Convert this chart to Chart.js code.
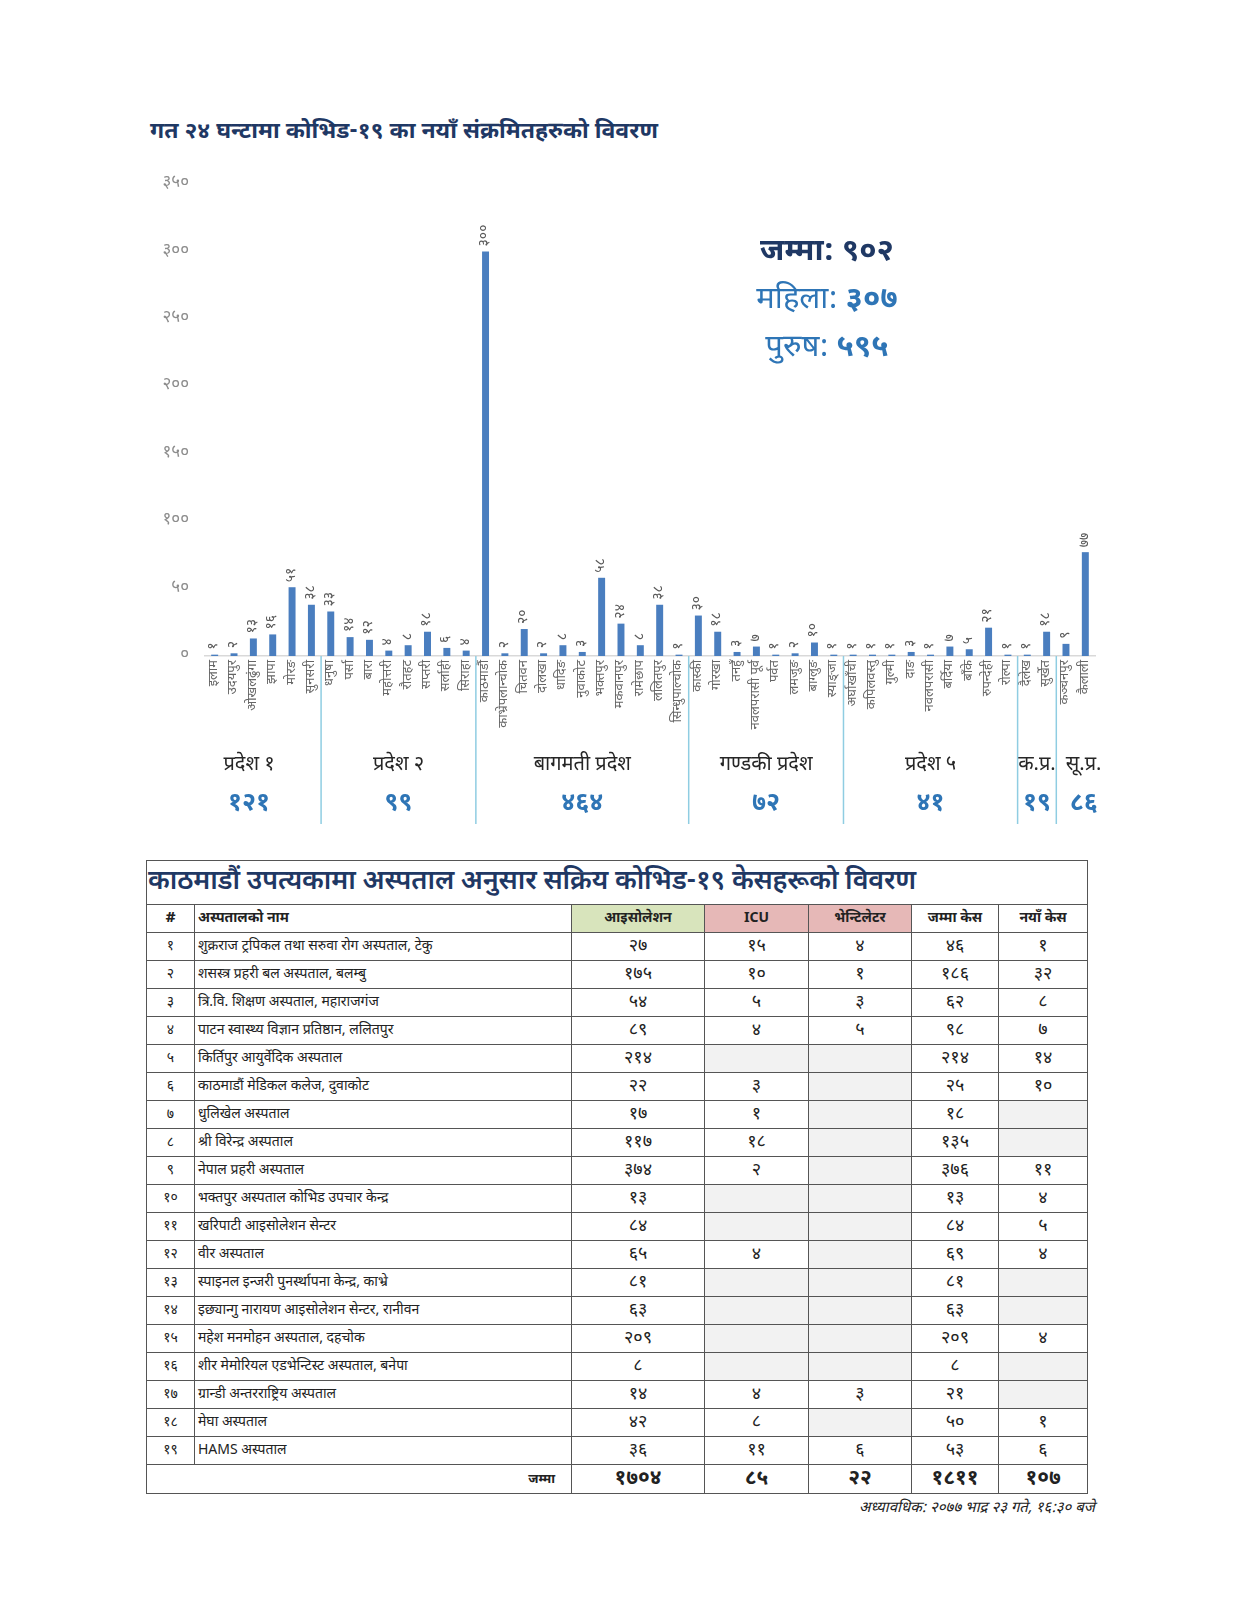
<!DOCTYPE html>
<html><head><meta charset="utf-8">
<script src="https://cdn.jsdelivr.net/npm/chart.js@4.4.0/dist/chart.umd.min.js"></script>
<style>
html,body{margin:0;padding:0;background:#fff;}
body{width:1236px;height:1600px;position:relative;overflow:hidden;font-family:"Noto Sans Devanagari","Lohit Devanagari","Noto Sans","DejaVu Sans",sans-serif;}
#title{position:absolute;left:150px;top:117px;font-size:23px;font-weight:bold;color:#1f3864;white-space:nowrap;}
#chartWrap{position:absolute;left:0;top:0;width:1236px;height:850px;}
#anno{position:absolute;left:677px;top:229px;width:300px;text-align:center;}
#anno div{line-height:48px;white-space:nowrap;}
#a1{font-size:31px;font-weight:bold;color:#1f3864;}
#a2,#a3{font-size:31px;color:#2e75b6;}
#a2 b,#a3 b{font-weight:bold;}
#tbl{position:absolute;left:146px;top:860px;width:941px;border-collapse:collapse;table-layout:fixed;border:1.5px solid #333;}
#tbl td{border:1px solid #555;padding:0;font-size:14px;color:#222;white-space:nowrap;overflow:hidden;}
#tbl tr{height:28px;}
#tbl td.c{text-align:center;font-size:18px;}
#tbl td.n{padding-left:3px;}
#tbl td.e{background:#f2f2f2;}
#tbl tr.ttl td{height:43px;font-size:27px;font-weight:600;color:#1f3864;text-align:left;padding-left:1px;letter-spacing:-0.2px;}
#tbl tr.hdr td{font-size:14px;font-weight:bold;text-align:center;}
#tbl tr.tot td{font-size:21px;font-weight:bold;text-align:center;height:28px;}
#foot{position:absolute;right:141px;top:1499px;font-size:15px;font-style:italic;color:#222;white-space:nowrap;}
</style>
</head><body>
<div id="title"></div>
<div id="chartWrap"><canvas id="c" width="1236" height="850"></canvas></div>
<div id="anno"><div id="a1"></div><div id="a2"></div><div id="a3"></div></div>
<table id="tbl"></table>
<div id="foot"></div>
<script>
// ---------- DATA ----------
const chartTitle = 'गत २४ घन्टामा कोभिड-१९ का नयाँ संक्रमितहरुको विवरण';
const districts = [
  'इलाम','उदयपुर','ओखलढुंगा','झापा','मोरङ','सुनसरी',
  'धनुषा','पर्सा','बारा','महोत्तरी','रौतहट','सप्तरी','सर्लाही','सिराहा',
  'काठमाडौं','काभ्रेपलान्चोक','चितवन','दोलखा','धादिङ','नुवाकोट','भक्तपुर','मकवानपुर','रामेछाप','ललितपुर','सिन्धुपाल्चोक',
  'कास्की','गोरखा','तनहुँ','नवलपरासी पूर्व','पर्वत','लमजुङ','बाग्लुङ','स्याङ्जा',
  'अर्घाखाँची','कपिलवस्तु','गुल्मी','दाङ','नवलपरासी','बर्दिया','बाँके','रुपन्देही','रोल्पा',
  'दैलेख','सुर्खेत',
  'कञ्चनपुर','कैलाली'
];
const newCases = [
  1,2,13,16,51,38,
  33,14,12,4,8,18,6,4,
  300,2,20,2,8,3,58,24,8,38,1,
  30,18,3,7,1,2,10,1,
  1,1,1,3,1,7,5,21,1,
  1,18,
  9,77
];
const provinceNames = ['प्रदेश १','प्रदेश २','बागमती प्रदेश','गण्डकी प्रदेश','प्रदेश ५','क.प्र.','सू.प्र.'];
const provinceSizes = [6,8,11,8,9,2,2];
const provinceTotals = [121,99,464,72,41,19,86];
const yMax = 350, yStep = 50;
const totalLabel = 'जम्मा:', totalCases = 902;
const femaleLabel = 'महिला:', femaleCases = 307;
const maleLabel = 'पुरुष:', maleCases = 595;

const tableTitle = 'काठमाडौं उपत्यकामा अस्पताल अनुसार सक्रिय कोभिड-१९  केसहरूको विवरण';
const tableHeaders = ['#','अस्पतालको नाम','आइसोलेशन','ICU','भेन्टिलेटर','जम्मा केस','नयाँ केस'];
const hospitals = [
  'शुक्रराज ट्रपिकल तथा सरुवा रोग अस्पताल, टेकु',
  'शसस्त्र प्रहरी बल अस्पताल, बलम्बु',
  'त्रि.वि. शिक्षण अस्पताल, महाराजगंज',
  'पाटन स्वास्थ्य विज्ञान प्रतिष्ठान, ललितपुर',
  'किर्तिपुर आयुर्वेदिक अस्पताल',
  'काठमाडौं मेडिकल कलेज, दुवाकोट',
  'धुलिखेल अस्पताल',
  'श्री विरेन्द्र अस्पताल',
  'नेपाल प्रहरी अस्पताल',
  'भक्तपुर अस्पताल कोभिड उपचार केन्द्र',
  'खरिपाटी आइसोलेशन सेन्टर',
  'वीर अस्पताल',
  'स्पाइनल इन्जरी पुनर्स्थापना केन्द्र, काभ्रे',
  'इछ्यान्गु नारायण आइसोलेशन सेन्टर, रानीवन',
  'महेश मनमोहन अस्पताल, दहचोक',
  'शीर मेमोरियल एडभेन्टिस्ट अस्पताल, बनेपा',
  'ग्रान्डी अन्तरराष्ट्रिय अस्पताल',
  'मेघा अस्पताल',
  'HAMS अस्पताल'
];
const isolation = [27,175,54,89,214,22,17,117,374,13,84,65,81,63,209,8,14,42,36];
const icu       = [15,10,5,4,null,3,1,18,2,null,null,4,null,null,null,null,4,8,11];
const ventilator= [4,1,3,5,null,null,null,null,null,null,null,null,null,null,null,null,3,null,6];
const totalCol  = [46,186,62,98,214,25,18,135,376,13,84,69,81,63,209,8,21,50,53];
const newCol    = [1,32,8,7,14,10,null,null,11,4,5,4,null,null,4,null,null,1,6];
const grandTotals = [1704,85,22,1811,107];
const totalRowLabel = 'जम्मा';
const footerText = 'अध्यावधिक: २०७७ भाद्र २३ गते, १६:३० बजे';

// ---------- helpers ----------
const devDigits = ['०','१','२','३','४','५','६','७','८','९'];
function ne(n){ return String(n).replace(/[0-9]/g, d => devDigits[+d]); }
const FONT = '"Noto Sans Devanagari","Lohit Devanagari","Noto Sans","DejaVu Sans",sans-serif';

document.getElementById('title').textContent = chartTitle;
document.getElementById('a1').textContent = totalLabel + ' ' + ne(totalCases);
document.getElementById('a2').innerHTML = femaleLabel + ' <b>' + ne(femaleCases) + '</b>';
document.getElementById('a3').innerHTML = maleLabel + ' <b>' + ne(maleCases) + '</b>';
document.getElementById('foot').textContent = footerText;

// ---------- chart ----------
const valueLabels = {
  id: 'valueLabels',
  afterDatasetsDraw(chart) {
    const ctx = chart.ctx;
    const meta = chart.getDatasetMeta(0);
    ctx.save();
    ctx.fillStyle = '#595959';
    ctx.font = '14px ' + FONT;
    ctx.textAlign = 'left';
    ctx.textBaseline = 'middle';
    meta.data.forEach((bar, i) => {
      ctx.save();
      ctx.translate(bar.x, bar.y - 5);
      ctx.rotate(-Math.PI / 2);
      ctx.fillText(ne(chart.data.datasets[0].data[i]), 0, 0);
      ctx.restore();
    });
    ctx.restore();
  }
};
const provinceGroups = {
  id: 'provinceGroups',
  afterDraw(chart) {
    const ctx = chart.ctx;
    const xs = chart.scales.x;
    const bottom = chart.chartArea.bottom;
    const last = provinceSizes.length - 1;
    ctx.save();
    let start = 0;
    provinceSizes.forEach((size, g) => {
      const end = start + size - 1;
      let cx = (xs.getPixelForValue(start) + xs.getPixelForValue(end)) / 2;
      if (g === 0) cx -= 14;
      if (g === last) cx += 8;
      ctx.textAlign = 'center';
      ctx.textBaseline = 'middle';
      ctx.fillStyle = '#262626';
      ctx.font = '20px ' + FONT;
      ctx.fillText(provinceNames[g], cx, bottom + 110);
      ctx.fillStyle = '#2e75b6';
      ctx.font = 'bold 25px ' + FONT;
      ctx.fillText(ne(provinceTotals[g]), cx, bottom + 149);
      if (g < last) {
        const bx = (xs.getPixelForValue(end) + xs.getPixelForValue(end + 1)) / 2;
        ctx.strokeStyle = '#8fcde2';
        ctx.lineWidth = 1.5;
        ctx.beginPath();
        ctx.moveTo(bx, bottom);
        ctx.lineTo(bx, bottom + 168);
        ctx.stroke();
      }
      start = end + 1;
    });
    ctx.restore();
  }
};

new Chart(document.getElementById('c'), {
  type: 'bar',
  data: {
    labels: districts,
    datasets: [{
      data: newCases,
      backgroundColor: '#4a7ebf',
      barPercentage: 0.36,
      categoryPercentage: 1.0
    }]
  },
  options: {
    responsive: false,
    animation: false,
    layout: { padding: { left: 150, right: 141, top: 184, bottom: 94 } },
    plugins: { legend: { display: false }, tooltip: { enabled: false } },
    scales: {
      x: {
        grid: { display: false, drawTicks: false },
        border: { display: true, color: '#d9d9d9', width: 1.5 },
        ticks: {
          autoSkip: false, minRotation: 90, maxRotation: 90, padding: 4,
          color: '#666666', font: { size: 13, family: FONT }
        },
        afterFit(scale) { scale.height = 100; }
      },
      y: {
        min: 0, max: yMax,
        grid: { display: false, drawTicks: false },
        border: { display: false },
        ticks: {
          stepSize: yStep, padding: 16, color: '#8c8c8c',
          font: { size: 17, family: FONT },
          callback: v => ne(v)
        },
        afterFit(scale) { scale.width = 55; }
      }
    }
  },
  plugins: [valueLabels, provinceGroups]
});

// ---------- table ----------
(function buildTable(){
  const t = document.getElementById('tbl');
  const colW = [48,377,133,104,103,87,89];
  let html = '<colgroup>' + colW.map(w => '<col style="width:' + w + 'px">').join('') + '</colgroup>';
  html += '<tr class="ttl"><td colspan="7">' + tableTitle + '</td></tr>';
  const hdrBg = ['', '', '#d8e4bc', '#e6b8b7', '#e6b8b7', '', ''];
  html += '<tr class="hdr">' + tableHeaders.map((h, i) =>
    '<td style="' + (hdrBg[i] ? 'background:' + hdrBg[i] + ';' : '') + (i === 1 ? 'text-align:left;padding-left:3px;' : '') + (i===0?'font-size:16px;':'') + '">' + h + '</td>').join('') + '</tr>';
  const cell = v => v === null ? '<td class="c e"></td>' : '<td class="c">' + ne(v) + '</td>';
  hospitals.forEach((name, i) => {
    html += '<tr><td class="c" style="font-size:14px">' + ne(i + 1) + '</td><td class="n">' + name + '</td>' +
      cell(isolation[i]) + cell(icu[i]) + cell(ventilator[i]) + cell(totalCol[i]) + cell(newCol[i]) + '</tr>';
  });
  html += '<tr class="tot"><td colspan="2" style="text-align:right;padding-right:16px;font-size:13px;">' + totalRowLabel + '</td>' +
    grandTotals.map(v => '<td>' + ne(v) + '</td>').join('') + '</tr>';
  t.innerHTML = html;
})();
</script>
</body></html>
